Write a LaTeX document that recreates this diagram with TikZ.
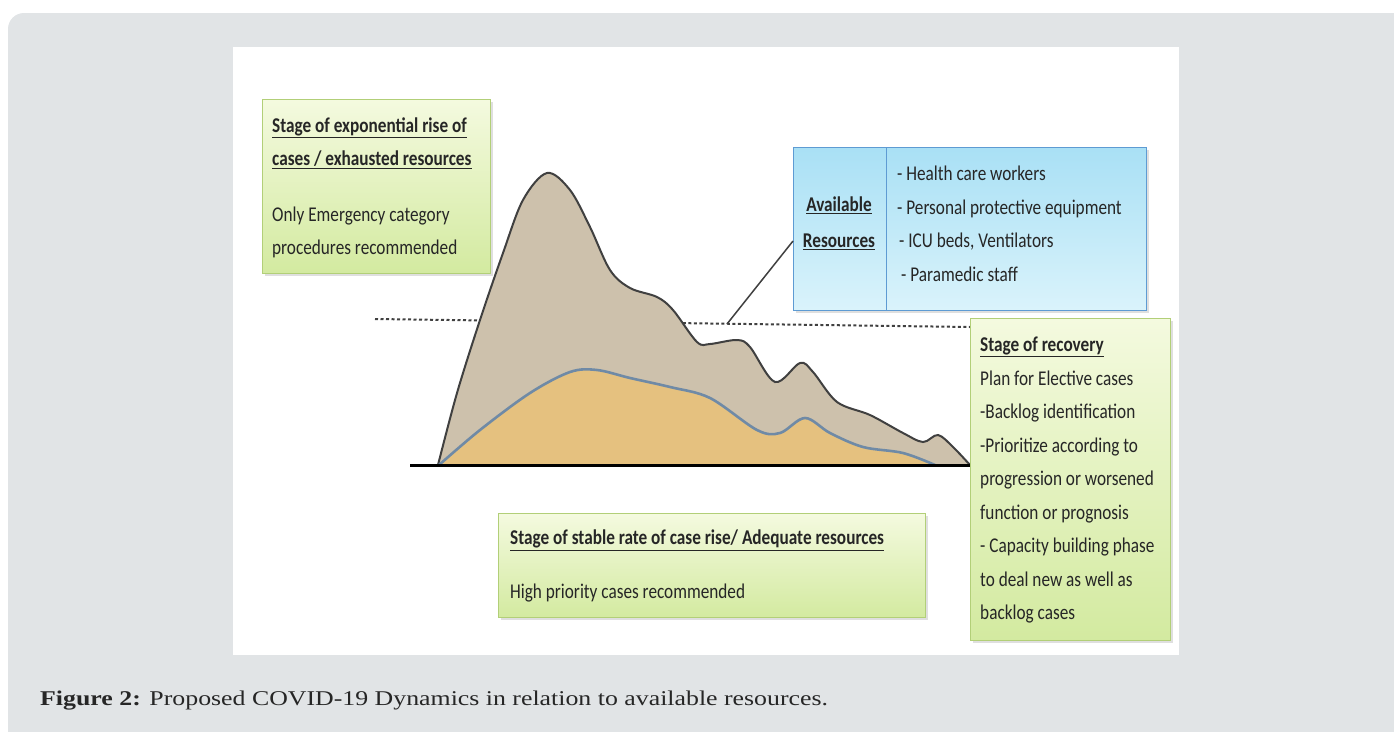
\documentclass[tikz,border=0pt]{standalone}
\usepackage{fontspec}
\setmainfont{Carlito}[FakeStretch=0.82]
\newfontfamily\capfont{Liberation Serif}[FakeStretch=1.23]
\usetikzlibrary{shadows}

\definecolor{panelgrey}{HTML}{E1E4E6}
\definecolor{greentop}{HTML}{F4FADF}
\definecolor{greenbot}{HTML}{D3EAA0}
\definecolor{greenline}{HTML}{B2CF78}
\definecolor{bluetop}{HTML}{A9E0F5}
\definecolor{bluebot}{HTML}{DAF3FB}
\definecolor{blueline}{HTML}{5E9BD3}
\definecolor{wavetan}{HTML}{CDC1AC}
\definecolor{waveline}{HTML}{404040}
\definecolor{coreorange}{HTML}{E5C17F}
\definecolor{coreline}{HTML}{6F8AA6}
\definecolor{inktext}{HTML}{262626}

\newcommand\headline[1]{\underline{\textbf{#1}}}

\tikzset{
  stagebox/.style={draw=greenline, line width=1.2pt, top color=greentop, bottom color=greenbot,
    drop shadow={opacity=0.25,shadow xshift=2pt,shadow yshift=-2pt}, anchor=north west, inner sep=0pt},
  resbox/.style={draw=blueline, line width=1pt, top color=bluetop, bottom color=bluebot,
    drop shadow={opacity=0.25,shadow xshift=2pt,shadow yshift=-2pt}, anchor=north west, inner sep=0pt},
  boxtext/.style={font=\fontsize{21}{33.5}\selectfont, align=left, text=inktext, inner sep=0pt, anchor=west},
}

\begin{document}
\begin{tikzpicture}[x=1pt,y=-1pt]
\useasboundingbox (0,0) rectangle (1394,731);
\clip (0,0) rectangle (1394,731);

% panels
\fill[panelgrey, rounded corners=16pt] (8,13) rectangle (1430,780);
\fill[white] (233,47) rectangle (1179,655);

% resource level
\draw[waveline, line width=2pt, dash pattern=on 3pt off 2.5pt] (375,319) -- (970,327);

% case curve
\filldraw[fill=wavetan, draw=waveline, line width=2pt] plot[smooth, tension=0.55] coordinates {
  (438,465) (457,393) (480,320) (503,253) (523,200) (547,173) (570,190) (590,227)
  (610,270) (630,288) (657,297) (673,310) (697,342) (710,344) (737,340) (750,347)
  (775,382) (800,363) (813,372) (837,402) (870,415) (903,433) (923,442) (938,435)
  (953,447) (970,465)} -- cycle;

% resources curve
\filldraw[fill=coreorange, draw=coreline, line width=2.6pt] plot[smooth, tension=0.55] coordinates {
  (439,465) (480,430) (530,393) (570,372) (597,370) (630,378) (670,387) (710,398)
  (757,430) (780,433) (805,418) (830,433) (863,447) (903,453) (935,465)};

\draw[black, line width=3pt] (410,465) -- (972,465);

% boxes
\node[stagebox, minimum width=228pt, minimum height=174pt] (expo) at (262,99) {};
\node[resbox, minimum width=353pt, minimum height=163pt] (avail) at (793,147) {};
\node[stagebox, minimum width=200pt, minimum height=322pt] (recov) at (970,318) {};
\node[stagebox, minimum width=427pt, minimum height=104pt] (stable) at (498,513) {};

\draw[blueline, line width=1pt] ([xshift=93pt]avail.north west) -- ([xshift=93pt]avail.south west);

\coordinate (tip) at (727,324);
\path [-, waveline, line width=1.5pt] ([yshift=-12pt]avail.west) edge (tip);

% texts
\node[boxtext] (expotext) at (272,188) {\headline{Stage of exponential rise of}\\
  \headline{cases / exhausted resources}\\[22pt]
  Only Emergency category\\
  procedures recommended};

\node[boxtext, align=center, anchor=center, font=\fontsize{21}{36}\selectfont] (availtext) at (839,223)
  {\headline{Available}\\\headline{Resources}};

\node[boxtext] (listtext) at (897,224) {- Health care workers\\
  - Personal protective equipment\\
  \hspace{2pt}- ICU beds, Ventilators\\
  \hspace{4pt}- Paramedic staff};

\node[boxtext] (recovtext) at (980,480) {\headline{Stage of recovery}\\
  Plan for Elective cases\\
  -Backlog identification\\
  -Prioritize according to\\
  progression or worsened\\
  function or prognosis\\
  - Capacity building phase\\
  to deal new as well as\\
  backlog cases};

\node[boxtext] (stabletext) at (510,566) {\headline{Stage of stable rate of case rise/ Adequate resources}\\[20pt]
  High priority cases recommended};

% caption
\node[anchor=base west, inner sep=0pt, font=\capfont\fontsize{21}{25}\selectfont, text=black!85] (caption) at (40,705)
  {\textbf{Figure 2:} Proposed COVID-19 Dynamics in relation to available resources.};
\end{tikzpicture}
\end{document}
